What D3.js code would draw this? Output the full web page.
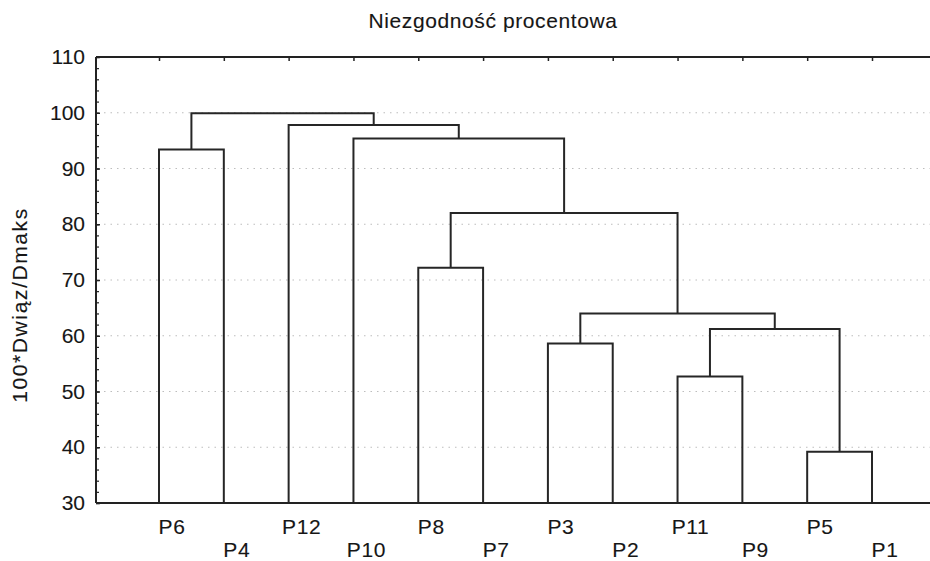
<!DOCTYPE html>
<html>
<head>
<meta charset="utf-8">
<script src="https://cdn.jsdelivr.net/npm/d3@7/dist/d3.min.js"></script>
<style>
  html, body { margin: 0; padding: 0; background: #fff; }
  svg { display: block; }
  text { font-family: "Liberation Sans", Arial, sans-serif; fill: #161616; stroke: #161616; stroke-width: 0.12px; }
</style>
</head>
<body>
<svg id="chart" width="930" height="561"></svg>
<script>
// Leaf order along the horizontal axis
const leaves = ["P6", "P4", "P12", "P10", "P8", "P7", "P3", "P2", "P11", "P9", "P5", "P1"];

// Agglomeration steps: the two joined clusters and the linkage distance
const mergeIds    = ["m1", "m2", "m3", "m4", "m5", "m6", "m7", "m8", "m9", "m10", "m11"];
const mergeLeft   = ["P5", "P11", "P3", "m2", "m3", "P8", "m6", "P6", "P10", "P12", "m8"];
const mergeRight  = ["P1", "P9", "P2", "m1", "m4", "P7", "m5", "P4", "m7", "m9", "m10"];
const mergeHeight = [39.2, 52.7, 58.6, 61.2, 64.0, 72.2, 82.0, 93.4, 95.4, 97.8, 99.9];

// Axis ticks
const yTicks = [30, 40, 50, 60, 70, 80, 90, 100, 110];
const yMinor = d3.range(30, 111, 2);
const gridValues = [40, 50, 60, 70, 80, 90, 100];

const titleText = "Niezgodność procentowa";
const yTitle = "100*Dwiąz/Dmaks";

const svg = d3.select("#chart");
const W = 930, H = 561;
const plotLeft = 96, plotTop = 57, plotBottom = 503;

const y = d3.scaleLinear().domain([30, 110]).range([plotBottom, plotTop]);
const x = d3.scalePoint().domain(leaves).range([159, 872]);

// Grid lines
svg.append("g").selectAll("line").data(gridValues).join("line")
  .attr("x1", plotLeft + 8).attr("x2", W)
  .attr("y1", d => y(d)).attr("y2", d => y(d))
  .attr("stroke", "#bdbdbd").attr("stroke-width", 1)
  .attr("stroke-dasharray", "1.5,5");

// Node positions
const pos = {};
leaves.forEach(l => { pos[l] = { x: x(l), h: 30 }; });
mergeIds.forEach((id, i) => {
  const a = pos[mergeLeft[i]], b = pos[mergeRight[i]];
  pos[id] = { x: (a.x + b.x) / 2, h: mergeHeight[i] };
});

// Dendrogram links
svg.append("g").selectAll("path").data(mergeIds).join("path")
  .attr("d", (id, i) => {
    const a = pos[mergeLeft[i]], b = pos[mergeRight[i]], h = mergeHeight[i];
    return `M${a.x},${y(a.h)}V${y(h)}H${b.x}V${y(b.h)}`;
  })
  .attr("fill", "none").attr("stroke", "#262626").attr("stroke-width", 2);

// Frame: left axis, top and bottom border lines
const frame = svg.append("g").attr("stroke", "#222").attr("stroke-width", 2);
frame.append("line").attr("x1", plotLeft).attr("x2", plotLeft).attr("y1", plotTop).attr("y2", plotBottom);
frame.append("line").attr("x1", plotLeft).attr("x2", W).attr("y1", plotTop).attr("y2", plotTop);
frame.append("line").attr("x1", plotLeft).attr("x2", W).attr("y1", plotBottom).attr("y2", plotBottom);

// Y axis with inward ticks
const yAxis = svg.append("g").attr("transform", `translate(${plotLeft},0)`)
  .call(d3.axisLeft(y).tickValues(yTicks).tickSize(-4).tickPadding(11).tickFormat(d3.format("d")));
yAxis.select(".domain").remove();
yAxis.selectAll(".tick line").attr("stroke", "#222").attr("stroke-width", 1.5);
yAxis.selectAll("text").attr("font-size", 21).attr("fill", "#161616")
  .style("font-family", '"Liberation Sans", Arial, sans-serif');

const yMin = svg.append("g").attr("transform", `translate(${plotLeft},0)`)
  .call(d3.axisLeft(y).tickValues(yMinor).tickSize(-3).tickFormat(""));
yMin.select(".domain").remove();
yMin.selectAll(".tick line").attr("stroke", "#222").attr("stroke-width", 1.2);

// Top ticks at leaf positions
const xTop = svg.append("g").attr("transform", `translate(0,${plotTop})`)
  .call(d3.axisTop(x).tickSize(-4).tickFormat(""));
xTop.select(".domain").remove();
xTop.selectAll(".tick line").attr("stroke", "#222").attr("stroke-width", 1.5);

// Leaf labels in two staggered rows
svg.append("g").selectAll("text").data(leaves).join("text")
  .attr("x", d => x(d) + 13)
  .attr("y", (d, i) => i % 2 === 0 ? 534 : 557)
  .attr("text-anchor", "middle")
  .attr("font-size", 21)
  .attr("letter-spacing", 0.6)
  .text(d => d);

// Title
svg.append("text").attr("x", 493).attr("y", 28).attr("text-anchor", "middle")
  .attr("font-size", 21).attr("letter-spacing", 0.6).text(titleText);

// Y axis title
svg.append("text")
  .attr("transform", `translate(27,305) rotate(-90)`)
  .attr("text-anchor", "middle")
  .attr("font-size", 21)
  .attr("letter-spacing", 1.6)
  .text(yTitle);
</script>
</body>
</html>
